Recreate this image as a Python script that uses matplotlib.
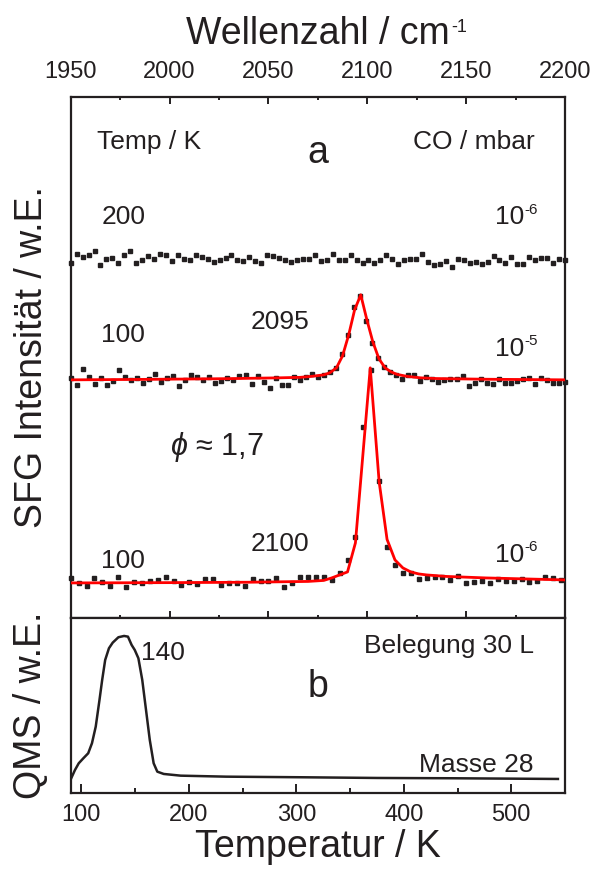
import matplotlib.pyplot as plt
import numpy as np

plt.rcParams['font.family'] = ['Liberation Sans', 'DejaVu Sans']
plt.rcParams['mathtext.fontset'] = 'custom'
plt.rcParams['mathtext.rm'] = 'Liberation Sans'
plt.rcParams['mathtext.it'] = 'Liberation Sans:italic'
plt.rcParams['mathtext.bf'] = 'Liberation Sans:bold'

ink = '#231f20'

# --- (a) SFG spectra, intensity relative to the baseline of each trace (w.E.)
wn_200K = np.linspace(1950, 2200, 84)
sfg_200K = [-3, 5.5, 3, 4.5, 9, -5, 1, 2, -3, 4.5,
            9, -3, -0.5, 3.5, 0.5, 5.5, 4.5, -1.5, 5, 1,
            0, 5, 3, 1, -2.5, 0, 2, 4.5, -0.5, -1.5,
            3, -1.5, -3, 4.5, 3.5, 2, -0.5, -2.5, -0.5, 0.5,
            1, 4.5, -1.5, -0.5, 5.5, 0, -0.5, 4.5, -0.5, -3,
            -0.5, -3.5, -0.5, 4.5, 1, -4.5, -0.5, 1, 1, 5.5,
            -2.5, -5, -4, -1.5, -7.5, 0.5, -0.5, -3, -2.5, -4,
            -2.5, 3.5, -0.5, -3, 3, -4, -4, 3, 0, 2,
            2, -3, 1, 0]

wn_100K_e5 = np.linspace(1950, 2200, 83)
sfg_100K_e5 = [2, -4.7, 11.3, 3, -3.7, 2, -4.7, -1.3, 9.7, 3,
               -0.3, 2, -2.7, 0.7, 5.7, -2, 2, 4, -6, -0.3,
               5.3, 3, -0.3, 3, -3, -1.3, 2.3, -0.3, 4, 4.7,
               -3.7, 4, -2, -8, 2.3, -4.7, -4.7, 3, -0.3, 3,
               6.3, 3, 5.3, 8, 12,
               26, 45, 73, 84, 59, 37, 22,
               13, 8, 5.3, 1.3, 4.7, 5.3, -1, 3, 1.3, -2,
               -0.3, 1.3, 1.3, 4, -6, -2.7, 1.3, -2.7, -3.7, 1.3,
               -2.7, -2.7, -1, 1.3, 2, -3.7, 2.3, -0.3, -2.7, -2.7, -2]

wn_100K_e6 = np.arange(1950, 2200, 4)
sfg_100K_e6 = [5, -0.3, -3, 4.7, 1.3, -3, 6.3, -3.7, 1.3, -0.3,
               2.3, 3, 5.7, 2.3, -2, 1.3, -1, 4, 3.7, -2,
               -0.3, -0.3, -3, 4, 2.3, 2.3, 4.7, -3.7, -0.3, 6.3,
               6.3, 6.3, 6.3, 3, 10.3, 23,
               46, 156, 213, 102, 36,
               18, 10.3, 10.3, 3.7, 4.7, 5.7, 5.7, 3, 7, 0.3,
               1.3, 2.3, 0.3, 3.7, 2.3, 2.3, 3.7, 1.3, 2.3, 6.3,
               4.7, 3]

# Lorentz fits (red lines)
fit_e5_wn = [1950, 1990, 2030, 2055, 2066, 2072, 2078, 2081, 2084.4, 2087.5,
             2090.6, 2093.6, 2096.7, 2099.8, 2102.8, 2105.9, 2109, 2112, 2115,
             2120, 2127, 2135, 2160, 2200]
fit_e5 = [0, 0.5, 1.2, 2, 2.5, 3.5, 5, 7, 12, 24,
          45, 70, 85, 60, 38, 21, 12, 8, 5.5,
          3.5, 2, 1.3, 0.6, 0]

fit_e6_wn = [1950, 2000, 2040, 2070, 2078, 2082, 2086, 2090, 2094, 2101.5,
             2106, 2110, 2114, 2118, 2122, 2126, 2130, 2140, 2160, 2180, 2200]
fit_e6 = [0, 0.3, 0.7, 1.5, 2.5, 5, 8, 11, 40, 215,
          101, 43.5, 23, 15, 11, 9, 8, 6.5, 5, 4, 3]

# vertical offsets of the stacked traces
off_200K = 358
off_e5 = 238
off_e6 = 35

# --- (b) TPD, mass 28
tpd_T = [90.5, 94, 97.5, 101.8, 106.3, 109.8, 113.3, 116.8, 119.3, 122.1,
         125.6, 129.1, 134.4, 139.7, 143.3, 146.7, 149.6, 153, 156.6, 160.1,
         163.6, 167.2, 170.6, 176.6, 192.4, 234.6, 305, 375, 445.4, 543.4]
tpd_qms = [14.7, 23, 29.7, 34.7, 39.7, 49.7, 66.3, 93, 113, 133,
           144.7, 150.3, 155.7, 157, 156.3, 148, 143, 134.7, 113, 83,
           53, 29.7, 21.3, 19, 17.3, 16.3, 15.7, 15, 14.7, 14]

fig = plt.figure(figsize=(5.94, 8.69), dpi=100)
ax_a = fig.add_axes([0.119, 0.2889, 0.8322, 0.5998])
ax_b = fig.add_axes([0.119, 0.0875, 0.8322, 0.2014])

# spectra
mk = dict(marker='s', ms=3.2, ls='none', color=ink, mec=ink, zorder=2, clip_on=False)
ax_a.plot(wn_200K, np.array(sfg_200K) + off_200K, **mk)
ax_a.plot(wn_100K_e5, np.array(sfg_100K_e5) + off_e5, **mk)
ax_a.plot(wn_100K_e6, np.array(sfg_100K_e6) + off_e6, **mk)
ax_a.plot(fit_e5_wn, np.array(fit_e5) + off_e5, color='red', lw=2, zorder=3)
ax_a.plot(fit_e6_wn, np.array(fit_e6) + off_e6, color='red', lw=2, zorder=3)

ax_a.set_xlim(1950, 2200)
ax_a.set_ylim(0, 521)
ax_a.set_xticks(np.arange(1950, 2201, 50))
ax_a.set_xticks(np.arange(1975, 2200, 50), minor=True)
ax_a.set_yticks([])
ax_a.tick_params(axis='x', which='both', direction='in', top=True, bottom=True,
                 labeltop=True, labelbottom=False, labelsize=17, pad=10,
                 width=1.4, color=ink, labelcolor=ink)
ax_a.tick_params(axis='x', which='major', length=5)
ax_a.tick_params(axis='x', which='minor', length=2.5)
ax_a.xaxis.set_label_position('top')
ax_a.set_xlabel('Wellenzahl / cm', fontsize=27, labelpad=12, color=ink)
ax_a.annotate('-1', xy=(1.0, 0.44), xycoords=ax_a.xaxis.label, xytext=(1, 0),
              textcoords='offset points', fontsize=13, color=ink,
              ha='left', va='bottom')
ax_a.set_ylabel('SFG Intensität / w.E.', fontsize=27, va='center', color=ink)
ax_a.yaxis.set_label_coords(-0.079, 0.5)

fs = 19
ta = ax_a.transAxes


def power_label(ax, x, y, exp, trans):
    base = ax.text(x, y, '10', transform=trans, fontsize=fs, ha='right', color=ink)
    ax.annotate(exp, xy=(1.0, 0.52), xycoords=base, fontsize=11, color=ink,
                ha='left', va='bottom')


ax_a.text(0.054, 0.90, 'Temp / K', transform=ta, fontsize=fs, color=ink)
ax_a.text(0.938, 0.90, 'CO / mbar', transform=ta, fontsize=fs, ha='right', color=ink)
ax_a.text(0.5, 0.873, 'a', transform=ta, fontsize=27, ha='center', color=ink)
ax_a.text(0.062, 0.755, '200', transform=ta, fontsize=fs, color=ink)
power_label(ax_a, 0.917, 0.755, '-6', ta)
ax_a.text(0.062, 0.529, '100', transform=ta, fontsize=fs, color=ink)
ax_a.text(0.363, 0.554, '2095', transform=ta, fontsize=fs, color=ink)
power_label(ax_a, 0.917, 0.503, '-5', ta)
ax_a.text(0.2, 0.313, r'$\phi$ ≈ 1,7', transform=ta, fontsize=22, color=ink)
ax_a.text(0.062, 0.095, '100', transform=ta, fontsize=fs, color=ink)
ax_a.text(0.363, 0.128, '2100', transform=ta, fontsize=fs, color=ink)
power_label(ax_a, 0.917, 0.108, '-6', ta)

# TPD
ax_b.plot(tpd_T, tpd_qms, color=ink, lw=1.8)
ax_b.set_xlim(90, 550)
ax_b.set_ylim(0, 175)
ax_b.set_xticks(np.arange(100, 501, 100))
ax_b.set_xticks(np.arange(150, 551, 100), minor=True)
ax_b.set_yticks([])
ax_b.tick_params(axis='x', which='both', direction='in', top=False, labelsize=17,
                 pad=8, width=1.4, color=ink, labelcolor=ink)
ax_b.tick_params(axis='x', which='major', length=6.5)
ax_b.tick_params(axis='x', which='minor', length=3.5)
ax_b.set_xlabel('Temperatur / K', fontsize=27, labelpad=2, color=ink)
ax_b.set_ylabel('QMS / w.E.', fontsize=27, va='center', color=ink)
ax_b.yaxis.set_label_coords(-0.081, 0.5)

tb = ax_b.transAxes
ax_b.text(0.142, 0.76, '140', transform=tb, fontsize=fs, color=ink)
ax_b.text(0.937, 0.80, 'Belegung 30 L', transform=tb, fontsize=fs, ha='right', color=ink)
ax_b.text(0.5, 0.55, 'b', transform=tb, fontsize=27, ha='center', color=ink)
ax_b.text(0.937, 0.12, 'Masse 28', transform=tb, fontsize=fs, ha='right', color=ink)

for ax in (ax_a, ax_b):
    for sp in ax.spines.values():
        sp.set_linewidth(1.6)
        sp.set_color(ink)

fig.savefig('out.png', dpi=100)
